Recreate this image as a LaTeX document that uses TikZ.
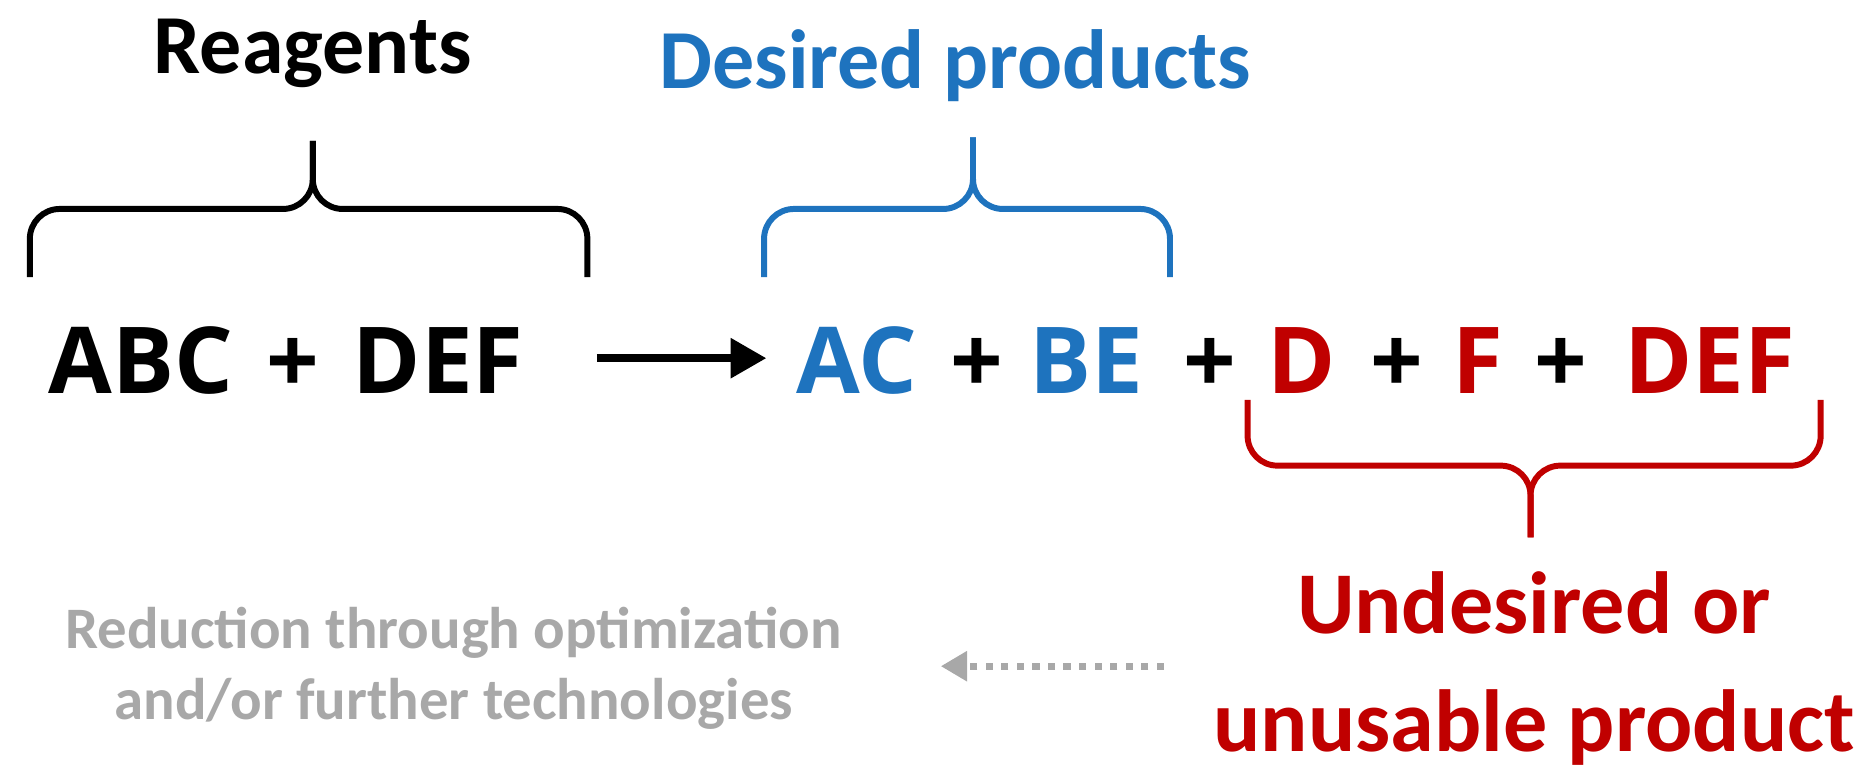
\documentclass[tikz,border=0pt]{standalone}
\usepackage{fontspec}
\setmainfont{Carlito}
\newfontfamily\osans{Open Sans}
\usetikzlibrary{arrows.meta}
\definecolor{cblue}{RGB}{30,115,190}
\definecolor{cred}{RGB}{192,0,0}
\definecolor{cgray}{RGB}{168,168,168}
\begin{document}
\begin{tikzpicture}[x=0.01cm,y=-0.01cm,
  brace/.style={line width=0.05cm,rounded corners=0.25cm},
  big/.style={font=\osans\fontsize{22}{26}\selectfont\bfseries,inner sep=0pt,anchor=base},
  lab/.style={font=\fontsize{20}{24}\selectfont\bfseries,inner sep=0pt},
  small/.style={font=\fontsize{14}{17}\selectfont\bfseries,inner sep=0pt,text=cgray,align=center}]
\useasboundingbox (0,0) rectangle (1568,653);
\node[lab] (reag) at (262,45) {Reagents};
\node[lab,text=cblue] (des) at (800,55) {Desired products};
\draw[brace] (25,232) -- (25,175) -- (262,175) -- (262,118);
\draw[brace] (262,118) -- (262,175) -- (492,175) -- (492,232);
\draw[brace,cblue] (640,232) -- (640,175) -- (815,175) -- (815,115);
\draw[brace,cblue] (815,115) -- (815,175) -- (980,175) -- (980,232);
\draw[brace,cred] (1045,335) -- (1045,390) -- (1282,390) -- (1282,450);
\draw[brace,cred] (1282,450) -- (1282,390) -- (1525,390) -- (1525,335);
\node[big] (t1) at (118,330) {ABC};
\node[big] (p1) at (245,330) {+};
\node[big] (t2) at (367,330) {DEF};
\node[big,text=cblue] (t3) at (718,330) {AC};
\node[big] (p2) at (818,330) {+};
\node[big,text=cblue] (t4) at (910,330) {BE};
\node[big] (p3) at (1013,330) {+};
\node[big,text=cred] (t5) at (1090,330) {D};
\node[big] (p4) at (1170,330) {+};
\node[big,text=cred] (t6) at (1238,330) {F};
\node[big] (p5) at (1307,330) {+};
\node[big,text=cred] (t7) at (1432,330) {DEF};
\coordinate (a1) at (500,300); \coordinate (a2) at (642,300);
\draw[line width=0.07cm,-{Triangle[length=0.3cm,width=0.32cm]}] (a1) -- (a2);
\node[small] (red) at (380,560) {Reduction through optimization\\and/or further technologies};
\node[lab,text=cred,align=center,font=\fontsize{21}{28}\selectfont\bfseries] (und) at (1285,560) {Undesired or\\unusable product};
\coordinate (d1) at (975,558); \coordinate (d2) at (788,558);
\draw[cgray,line width=0.06cm,dotted,-{Triangle[length=0.22cm,width=0.24cm]}] (d1) -- (d2);
\end{tikzpicture}
\end{document}
